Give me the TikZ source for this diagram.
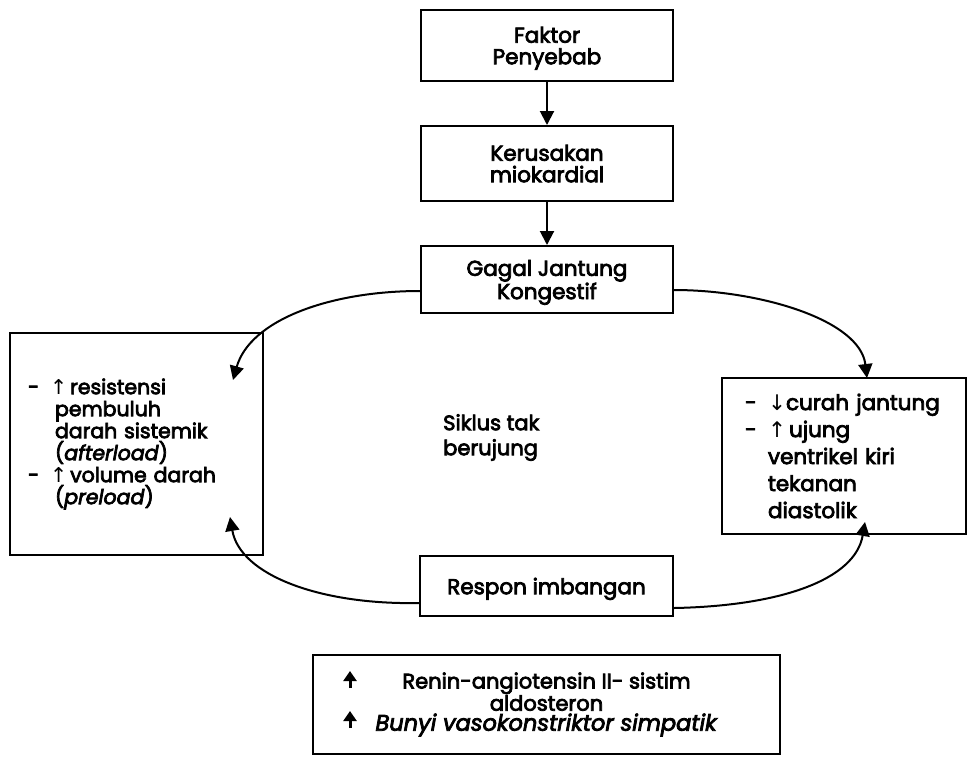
\documentclass[tikz,border=0pt]{standalone}
\usepackage{fontspec}
\setmainfont{Poppins}[FakeBold=3.5]
\newfontfamily\symf{DejaVu Sans}
\usetikzlibrary{arrows.meta}
\begin{document}
\begin{tikzpicture}[x=1pt,y=-1pt,
  box/.style={draw, line width=2pt, inner sep=0pt},
  txt/.style={font=\fontsize{21.5}{21.5}\selectfont, align=center, text depth=0pt},
  flow/.style={line width=2pt, -{Triangle[width=14pt,length=14pt]}},
]
\useasboundingbox (0,0) rectangle (968,756);
% top chain
\node[box, txt, minimum width=252pt, minimum height=71pt] (f1) at (547,45.5) {Faktor\\Penyebab};
\node[box, txt, minimum width=252pt, minimum height=75pt] (f2) at (547,163.5) {Kerusakan\\miokardial};
\node[box, txt, minimum width=252pt, minimum height=67pt] (f3) at (547,279.5) {Gagal Jantung\\Kongestif};
\draw[flow] (f1) -- (f2);
\draw[flow] (f2) -- (f3);
% side boxes
\node[box, minimum width=253pt, minimum height=222pt, text width=217pt, align=left,
      font=\fontsize{20.5}{22}\selectfont] (lb) at (136.5,444)
 {\makebox[22pt][l]{-}{\symf ↑}\hspace{3pt}resistensi\\
  \hspace*{27pt}pembuluh\\
  \hspace*{27pt}darah sistemik\\
  \hspace*{27pt}(\textit{afterload})\\
  \makebox[22pt][l]{-}{\symf ↑}\hspace{3pt}volume darah\\
  \hspace*{27pt}(\textit{preload})};
\node[box, minimum width=244pt, minimum height=156pt, text width=198pt, align=left,
      font=\fontsize{21.5}{27}\selectfont] (rb) at (844,456)
 {\makebox[23pt][l]{-}{\symf ↓}curah jantung\\
  \makebox[23pt][l]{-}{\symf ↑}\hspace{3pt}ujung\\
  \hspace*{23pt}ventrikel kiri\\
  \hspace*{23pt}tekanan\\
  \hspace*{23pt}diastolik};
\node[box, txt, minimum width=253pt, minimum height=60pt] (rsp) at (546.5,586) {Respon imbangan};
\node[inner sep=0pt, anchor=north west, align=left, font=\fontsize{21}{25}\selectfont] (sik) at (443,414) {Siklus tak\\berujung};
% bottom box
\node[box, minimum width=467pt, minimum height=99pt, align=center,
      font=\fontsize{21}{20}\selectfont] (bb) at (546.5,704.5)
 {Renin-angiotensin II- sistim\\aldosteron\\{\fontsize{22.5}{20}\selectfont\textit{Bunyi vasokonstriktor simpatik}}};
\draw[line width=3pt, -{Triangle[width=13pt,length=10pt]}] (350,688) -- (350,671);
\draw[line width=3pt, -{Triangle[width=13pt,length=10pt]}] (350,728) -- (350,711);
% cycle curves
\coordinate (lt) at (233,380);
\coordinate (lbt) at (230,517);
\coordinate (rt) at (867,378);
\coordinate (rbt) at (865,522);
\draw[flow] (f3.west |- 421,291) .. controls (330,291) and (250,320) .. (lt);
\draw[flow] (f3.east |- 673,290) .. controls (760,290) and (860,320) .. (rt);
\draw[flow] (rsp.east |- 673,608) .. controls (780,606) and (855,580) .. (rbt);
\draw[flow] (rsp.west |- 420,603) .. controls (320,605) and (240,575) .. (lbt);
\end{tikzpicture}
\end{document}
